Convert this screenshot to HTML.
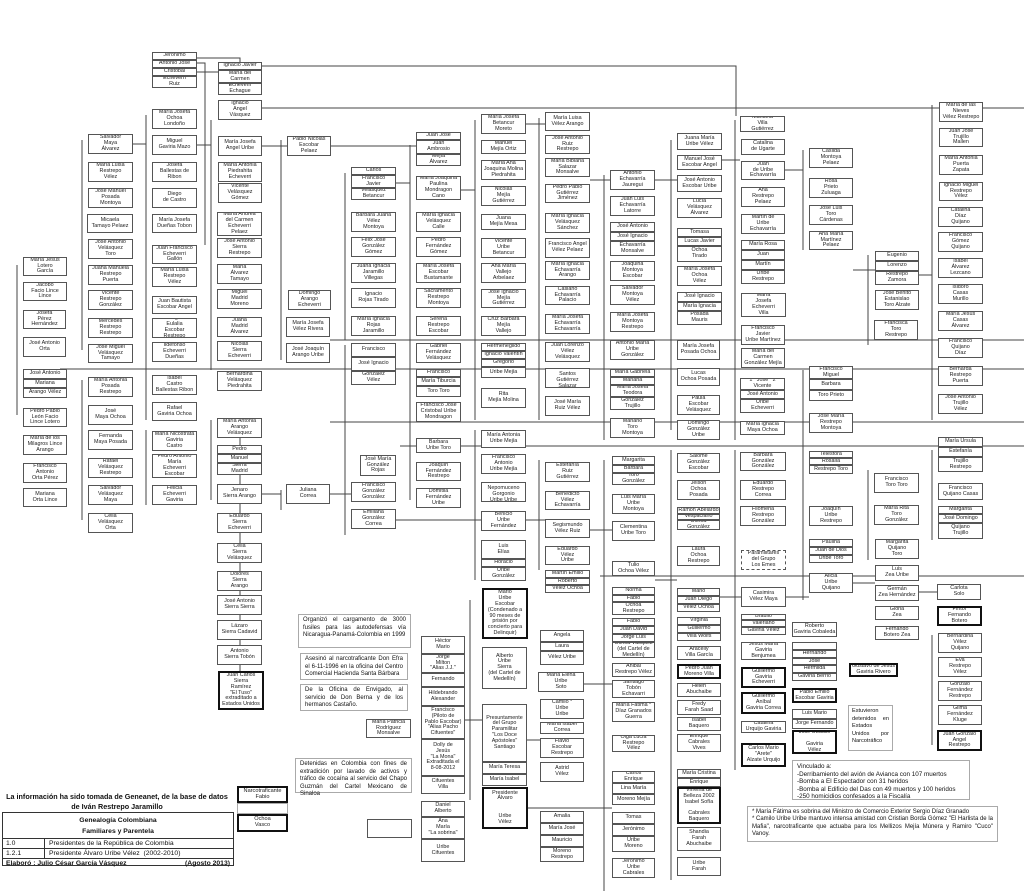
<!DOCTYPE html>
<html><head><meta charset="utf-8">
<style>
html,body{margin:0;padding:0;background:#fff}
#w{position:relative;width:1024px;height:891px;overflow:hidden;background:#fff}
.b{position:absolute;box-sizing:border-box;border:1px solid #555;background:#fff;font:5.4px/5.8px "Liberation Sans",sans-serif;text-align:center;display:flex;align-items:center;justify-content:center;overflow:hidden;color:#222}
.k{border:2px solid #111}
.d{border:1px dashed #555}
.n{position:absolute;box-sizing:border-box;border:1px solid #aaa;background:#fff;font:7px/9px "Liberation Sans",sans-serif;color:#111;padding:2px 4px;text-align:justify}
svg{position:absolute;left:0;top:0}
</style></head><body><div id="w">
<svg width="1024" height="891" stroke="#444" stroke-width="1" fill="none">
<path d="M262 66H736V116M262 108H1024M197 58H240V62M197 63H205V245M197 72H260"/>
<path d="M330 340H1024M60 369H1024M330 422H1024M400 446H1024M600 576H1024"/>
<path d="M17 265V415M82 140V350M82 380V520M146 115V420M146 430V505M211 120V370M211 420V500M281 140V360M281 490V510M345 173V340M345 345V535M410 145V500M475 120V420M475 430V580M539 118V420M539 460V570M604 175V440M604 460V900M671 140V430M671 450V880M735 120V440M735 450V770M803 150V250M803 370V600M868 255V345M868 470V560M932 105V420M932 450V540M932 635V745M240 420V710M470 600V800"/>
<path d="M133 144H146M197 145H211M262 146H287M331 146H420M396 183H410M461 190H475M526 124H545M590 180H610M655 180H677M722 160H740M785 170H803M853 270H875M919 275H932M262 494H281M330 494H351M396 520H481M526 520H545M590 530H612M655 580H677M720 597H741M786 597H809M853 583H875M919 592H937M527 808H612M527 740H540M465 720H482M584 684H612"/>
</svg>
<!-- col1 -->
<div class="b" style="left:23px;top:257px;width:44px;height:19px">María Jesús<br>Lotero<br>García</div>
<div class="b" style="left:23px;top:282px;width:44px;height:19px">Jacobo<br>Facio Lince<br>Lince</div>
<div class="b" style="left:23px;top:310px;width:43px;height:19px">Josefa<br>Pérez<br>Hernández</div>
<div class="b" style="left:23px;top:337px;width:43px;height:20px">José Antonio<br>Orta</div>
<div class="b" style="left:23px;top:369px;width:44px;height:10px">José Antonio</div>
<div class="b" style="left:23px;top:379px;width:44px;height:9px">Mariana</div>
<div class="b" style="left:23px;top:388px;width:44px;height:10px">Arango Vélez</div>
<div class="b" style="left:23px;top:408px;width:44px;height:19px">Pedro Pablo<br>León Facio<br>Lince Lotero</div>
<div class="b" style="left:23px;top:435px;width:44px;height:20px">María de los<br>Milagros Lince<br>Arango</div>
<div class="b" style="left:23px;top:463px;width:44px;height:20px">Francisco<br>Antonio<br>Orta Pérez</div>
<div class="b" style="left:23px;top:488px;width:44px;height:19px">Mariana<br>Orta Lince</div>
<!-- col2 -->
<div class="b" style="left:88px;top:134px;width:45px;height:20px">Salvador<br>Maya<br>Álvarez</div>
<div class="b" style="left:88px;top:162px;width:45px;height:20px">María Luisa<br>Restrepo<br>Vélez</div>
<div class="b" style="left:88px;top:188px;width:45px;height:20px">José Manuel<br>Posada<br>Montoya</div>
<div class="b" style="left:87px;top:214px;width:46px;height:19px">Micaela<br>Tamayo Pelaez</div>
<div class="b" style="left:88px;top:239px;width:45px;height:20px">José Antonio<br>Velásquez<br>Toro</div>
<div class="b" style="left:88px;top:265px;width:45px;height:20px">Juana Manuela<br>Restrepo<br>Puerta</div>
<div class="b" style="left:88px;top:290px;width:45px;height:20px">Vicente<br>Restrepo<br>González</div>
<div class="b" style="left:88px;top:318px;width:45px;height:20px">Mercedes<br>Restrepo<br>Restrepo</div>
<div class="b" style="left:88px;top:344px;width:45px;height:19px">José Miguel<br>Velásquez<br>Tamayo</div>
<div class="b" style="left:88px;top:377px;width:45px;height:20px">María Antonia<br>Posada<br>Restrepo</div>
<div class="b" style="left:88px;top:405px;width:45px;height:20px">José<br>Maya Ochoa</div>
<div class="b" style="left:88px;top:430px;width:45px;height:20px">Fernanda<br>Maya Posada</div>
<div class="b" style="left:88px;top:458px;width:45px;height:20px">Rafael<br>Velásquez<br>Restrepo</div>
<div class="b" style="left:88px;top:485px;width:45px;height:20px">Salvador<br>Velásquez<br>Maya</div>
<div class="b" style="left:88px;top:513px;width:45px;height:20px">Celia<br>Velásquez<br>Orta</div>
<!-- col3 -->
<div class="b" style="left:152px;top:52px;width:45px;height:8px">Jerónimo</div>
<div class="b" style="left:152px;top:60px;width:45px;height:8px">Antonio José</div>
<div class="b" style="left:152px;top:68px;width:45px;height:8px">Cristobal</div>
<div class="b" style="left:152px;top:76px;width:45px;height:12px">Echeverri<br>Ruiz</div>
<div class="b" style="left:152px;top:109px;width:45px;height:20px">María Josefa<br>Ochoa<br>Londoño</div>
<div class="b" style="left:152px;top:135px;width:45px;height:20px">Miguel<br>Gaviria Mazo</div>
<div class="b" style="left:152px;top:162px;width:45px;height:20px">Josefa<br>Ballestas de<br>Ribon</div>
<div class="b" style="left:152px;top:188px;width:45px;height:20px">Diego<br>de Castro</div>
<div class="b" style="left:152px;top:214px;width:45px;height:19px">María Josefa<br>Dueñas Tobon</div>
<div class="b" style="left:152px;top:245px;width:45px;height:19px">Juan Francisco<br>Echeverri<br>Gallón</div>
<div class="b" style="left:152px;top:267px;width:45px;height:20px">María Luisa<br>Restrepo<br>Vélez</div>
<div class="b" style="left:152px;top:296px;width:45px;height:18px">Juan Bautista<br>Escobar Angel</div>
<div class="b" style="left:152px;top:318px;width:45px;height:20px">María Ignacia<br>Eulalia<br>Escobar<br>Restrepo</div>
<div class="b" style="left:152px;top:342px;width:45px;height:20px">Ildefonso<br>Echeverri<br>Dueñas</div>
<div class="b" style="left:152px;top:375px;width:45px;height:20px">Isabel<br>Castro<br>Ballestas Ribon</div>
<div class="b" style="left:152px;top:402px;width:45px;height:19px">Rafael<br>Gaviria Ochoa</div>
<div class="b" style="left:152px;top:431px;width:45px;height:20px">María Nicostrata<br>Gaviria<br>Castro</div>
<div class="b" style="left:152px;top:454px;width:45px;height:24px">Pedro Antonio<br>María<br>Echeverri<br>Escobar</div>
<div class="b" style="left:152px;top:485px;width:45px;height:20px">Felicia<br>Echeverri<br>Gaviria</div>
<!-- col4 -->
<div class="b" style="left:218px;top:62px;width:44px;height:8px">Ignacio Javier</div>
<div class="b" style="left:218px;top:70px;width:44px;height:13px">María del<br>Carmen</div>
<div class="b" style="left:218px;top:83px;width:44px;height:12px">Echeverri<br>Echague</div>
<div class="b" style="left:218px;top:100px;width:44px;height:20px">Ignacio<br>Angel<br>Vásquez</div>
<div class="b" style="left:218px;top:136px;width:44px;height:20px">María Josefa<br>Angel Uribe</div>
<div class="b" style="left:218px;top:162px;width:44px;height:20px">María Antonia<br>Piedrahita<br>Echeverri</div>
<div class="b" style="left:218px;top:183px;width:44px;height:20px">Vicente<br>Velásquez<br>Gómez</div>
<div class="b" style="left:217px;top:212px;width:45px;height:24px">María Andrea<br>del Carmen<br>Echeverri<br>Pelaez</div>
<div class="b" style="left:217px;top:238px;width:45px;height:20px">José Antonio<br>Sierra<br>Restrepo</div>
<div class="b" style="left:217px;top:264px;width:45px;height:20px">María<br>Álvarez<br>Tamayo</div>
<div class="b" style="left:217px;top:289px;width:45px;height:20px">Miguel<br>Madrid<br>Moreno</div>
<div class="b" style="left:217px;top:317px;width:45px;height:20px">Juana<br>Madrid<br>Álvarez</div>
<div class="b" style="left:217px;top:341px;width:45px;height:20px">Nicolás<br>Sierra<br>Echeverri</div>
<div class="b" style="left:217px;top:371px;width:45px;height:20px">Bernardina<br>Velásquez<br>Piedrahita</div>
<div class="b" style="left:217px;top:418px;width:45px;height:20px">María Antonia<br>Arango<br>Velásquez</div>
<div class="b" style="left:217px;top:445px;width:45px;height:9px">Pedro</div>
<div class="b" style="left:217px;top:454px;width:45px;height:9px">Manuel</div>
<div class="b" style="left:217px;top:463px;width:45px;height:12px">Sierra<br>Madrid</div>
<div class="b" style="left:217px;top:484px;width:45px;height:20px">Jenaro<br>Sierra Arango</div>
<div class="b" style="left:217px;top:513px;width:45px;height:20px">Eduardo<br>Sierra<br>Echeverri</div>
<div class="b" style="left:217px;top:543px;width:45px;height:20px">Celia<br>Sierra<br>Velásquez</div>
<div class="b" style="left:217px;top:571px;width:45px;height:20px">Dolores<br>Sierra<br>Arango</div>
<div class="b" style="left:217px;top:595px;width:45px;height:20px">José Antonio<br>Sierra Sierra</div>
<div class="b" style="left:217px;top:620px;width:45px;height:20px">Lázaro<br>Sierra Cadavid</div>
<div class="b" style="left:217px;top:645px;width:45px;height:20px">Antonio<br>Sierra Tobón</div>
<div class="b k" style="left:218px;top:671px;width:46px;height:39px">Juan Carlos<br>Sierra<br>Ramírez<br>"El Tuso"<br>extraditado a<br>Estados Unidos</div>
<!-- col5 -->
<div class="b" style="left:287px;top:136px;width:44px;height:20px">Pablo Nicolás<br>Escobar<br>Pelaez</div>
<div class="b" style="left:288px;top:290px;width:43px;height:20px">Domingo<br>Arango<br>Echeverri</div>
<div class="b" style="left:286px;top:317px;width:44px;height:20px">María Josefa<br>Vélez Rivera</div>
<div class="b" style="left:286px;top:343px;width:44px;height:20px">José Joaquín<br>Arango Uribe</div>
<div class="b" style="left:286px;top:484px;width:44px;height:20px">Juliana<br>Correa</div>
<!-- col6 -->
<div class="b" style="left:351px;top:167px;width:45px;height:8px">Carlos</div>
<div class="b" style="left:351px;top:175px;width:45px;height:13px">Francisco<br>Javier</div>
<div class="b" style="left:351px;top:188px;width:45px;height:12px">Velásquez<br>Betancur</div>
<div class="b" style="left:351px;top:212px;width:45px;height:20px">Barbara Juana<br>Vélez<br>Montoya</div>
<div class="b" style="left:351px;top:237px;width:45px;height:20px">Felix José<br>González<br>Gómez</div>
<div class="b" style="left:351px;top:263px;width:45px;height:20px">Juana Ignacia<br>Jaramillo<br>Villegas</div>
<div class="b" style="left:351px;top:288px;width:45px;height:20px">Ignacio<br>Rojas Tirado</div>
<div class="b" style="left:351px;top:316px;width:45px;height:20px">María Ignacia<br>Rojas<br>Jaramillo</div>
<div class="b" style="left:351px;top:343px;width:45px;height:14px">Francisco</div>
<div class="b" style="left:351px;top:357px;width:45px;height:14px">José Ignacio</div>
<div class="b" style="left:351px;top:371px;width:45px;height:14px">González<br>Vélez</div>
<div class="b" style="left:360px;top:455px;width:36px;height:21px">José María<br>González<br>Rojas</div>
<div class="b" style="left:351px;top:482px;width:45px;height:20px">Francisco<br>González<br>González</div>
<div class="b" style="left:351px;top:509px;width:45px;height:20px">Emiliana<br>González<br>Correa</div>
<!-- col7 -->
<div class="b" style="left:416px;top:132px;width:45px;height:8px">Juan José</div>
<div class="b" style="left:416px;top:140px;width:45px;height:14px">Juan<br>Ambrosio</div>
<div class="b" style="left:416px;top:154px;width:45px;height:12px">Mejía<br>Álvarez</div>
<div class="b" style="left:416px;top:176px;width:45px;height:24px">María Joaquina<br>Paulina<br>Mondragon<br>Cano</div>
<div class="b" style="left:416px;top:212px;width:45px;height:20px">María Ignacia<br>Velásquez<br>Calle</div>
<div class="b" style="left:416px;top:237px;width:45px;height:20px">Pedro<br>Fernández<br>Gómez</div>
<div class="b" style="left:416px;top:263px;width:45px;height:20px">María Josefa<br>Escobar<br>Bustamante</div>
<div class="b" style="left:416px;top:288px;width:45px;height:20px">Sacramento<br>Restrepo<br>Montoya</div>
<div class="b" style="left:416px;top:316px;width:45px;height:20px">Serena<br>Restrepo<br>Escobar</div>
<div class="b" style="left:416px;top:343px;width:45px;height:20px">Gabriel<br>Fernández<br>Velásquez</div>
<div class="b" style="left:416px;top:369px;width:45px;height:8px">Francisco</div>
<div class="b" style="left:416px;top:377px;width:45px;height:9px">María Tiburcia</div>
<div class="b" style="left:416px;top:386px;width:45px;height:11px">Toro Toro</div>
<div class="b" style="left:416px;top:402px;width:45px;height:20px">Francisco José<br>Cristobal Uribe<br>Mondragon</div>
<div class="b" style="left:416px;top:438px;width:45px;height:15px">Barbara<br>Uribe Toro</div>
<div class="b" style="left:416px;top:462px;width:45px;height:19px">Joaquín<br>Fernández<br>Restrepo</div>
<div class="b" style="left:416px;top:488px;width:45px;height:20px">Domitila<br>Fernández<br>Uribe</div>
<!-- col8 -->
<div class="b" style="left:481px;top:114px;width:45px;height:20px">María Josefa<br>Betancur<br>Moreto</div>
<div class="b" style="left:481px;top:140px;width:45px;height:14px">Manuel<br>Mejía Ortiz</div>
<div class="b" style="left:481px;top:160px;width:45px;height:20px">María Ana<br>Joaquina Molina<br>Piedrahita</div>
<div class="b" style="left:481px;top:186px;width:45px;height:20px">Nicolás<br>Mejía<br>Gutiérrez</div>
<div class="b" style="left:481px;top:214px;width:45px;height:16px">Juana<br>Mejía Mesa</div>
<div class="b" style="left:481px;top:238px;width:45px;height:20px">Vicente<br>Uribe<br>Betancur</div>
<div class="b" style="left:481px;top:263px;width:45px;height:20px">Ana María<br>Vallejo<br>Arbelaez</div>
<div class="b" style="left:481px;top:289px;width:45px;height:19px">José Ignacio<br>Mejía<br>Gutiérrez</div>
<div class="b" style="left:481px;top:316px;width:45px;height:20px">Cruz Barbara<br>Mejía<br>Vallejo</div>
<div class="b" style="left:481px;top:343px;width:45px;height:8px">Hermenegildo</div>
<div class="b" style="left:481px;top:351px;width:45px;height:8px">Ignacio Valentín</div>
<div class="b" style="left:481px;top:359px;width:45px;height:8px">Gregorio</div>
<div class="b" style="left:481px;top:367px;width:45px;height:11px">Uribe Mejía</div>
<div class="b" style="left:481px;top:388px;width:45px;height:20px">Rita<br>Mejía Molina</div>
<div class="b" style="left:481px;top:430px;width:45px;height:18px">María Antonia<br>Uribe Mejía</div>
<div class="b" style="left:481px;top:454px;width:45px;height:20px">Francisco<br>Antonio<br>Uribe Mejía</div>
<div class="b" style="left:481px;top:482px;width:45px;height:20px">Juan Nepomuceno<br>Gorgonio<br>Uribe Uribe</div>
<div class="b" style="left:481px;top:511px;width:45px;height:20px">Benicio<br>Uribe<br>Fernández</div>
<div class="b" style="left:481px;top:540px;width:45px;height:19px">Luis<br>Elías</div>
<div class="b" style="left:481px;top:559px;width:45px;height:8px">Horacio</div>
<div class="b" style="left:481px;top:567px;width:45px;height:14px">Uribe<br>González</div>
<div class="b k" style="left:482px;top:588px;width:46px;height:51px">Mario<br>Uribe<br>Escobar<br>(Condenado a<br>90 meses de<br>prisión por<br>concierto para<br>Delinquir)</div>
<div class="b" style="left:482px;top:647px;width:45px;height:42px">Alberto<br>Uribe<br>Sierra<br>(del Cartel de<br>Medellín)</div>
<div class="b" style="left:482px;top:704px;width:45px;height:58px">Presuntamente<br>del Grupo<br>Paramilitar<br>"Los Doce<br>Apóstoles"<br>Santiago</div>
<div class="b" style="left:482px;top:762px;width:45px;height:12px">María Teresa</div>
<div class="b" style="left:482px;top:774px;width:45px;height:12px">María Isabel</div>
<div class="b" style="left:482px;top:786px;width:45px;height:0px"></div>
<div class="b" style="left:482px;top:764px;width:45px;height:0px;border:0"></div>
<div class="b" style="left:482px;top:786px;width:45px;height:1px;border:0"></div>
<div class="b" style="left:482px;top:764px;width:0;height:0;border:0"></div>
<div class="b" style="left:482px;top:786px;width:45px;height:1px;border:0"></div>
<div class="b k" style="left:482px;top:787px;width:46px;height:42px">Presidente<br>Álvaro<br><br><br>Uribe<br>Vélez</div>
<div class="b" style="left:482px;top:763px;width:45px;height:24px;display:none"></div>
<!-- col9 -->
<div class="b" style="left:545px;top:112px;width:45px;height:19px">María Luisa<br>Vélez Arango</div>
<div class="b" style="left:545px;top:135px;width:45px;height:19px">José Antonio<br>Ruiz<br>Restrepo</div>
<div class="b" style="left:545px;top:158px;width:45px;height:19px">María Bibiana<br>Salazar<br>Monsalve</div>
<div class="b" style="left:545px;top:184px;width:45px;height:19px">Pedro Pablo<br>Gutiérrez<br>Jiménez</div>
<div class="b" style="left:545px;top:213px;width:45px;height:20px">María Ignacia<br>Velásquez<br>Sánchez</div>
<div class="b" style="left:545px;top:238px;width:45px;height:20px">Francisco Angel<br>Vélez Pelaez</div>
<div class="b" style="left:545px;top:261px;width:45px;height:19px">María Ignacia<br>Echavarría<br>Arango</div>
<div class="b" style="left:545px;top:286px;width:45px;height:19px">Casiano<br>Echavarría<br>Palacio</div>
<div class="b" style="left:545px;top:314px;width:45px;height:20px">María Josefa<br>Echavarría<br>Echavarría</div>
<div class="b" style="left:545px;top:342px;width:45px;height:20px">Juan Lorenzo<br>Vélez<br>Velásquez</div>
<div class="b" style="left:545px;top:368px;width:45px;height:20px">María de los<br>Santos<br>Gutiérrez<br>Salazar</div>
<div class="b" style="left:545px;top:396px;width:45px;height:20px">José María<br>Ruiz Vélez</div>
<div class="b" style="left:545px;top:462px;width:45px;height:20px">Estefanía<br>Ruiz<br>Gutiérrez</div>
<div class="b" style="left:545px;top:491px;width:45px;height:19px">Benedicto<br>Vélez<br>Echavarría</div>
<div class="b" style="left:545px;top:519px;width:45px;height:19px">Segismundo<br>Vélez Ruiz</div>
<div class="b" style="left:545px;top:546px;width:45px;height:19px">Eduardo<br>Vélez<br>Uribe</div>
<div class="b" style="left:545px;top:570px;width:45px;height:8px">Martín Emilio</div>
<div class="b" style="left:545px;top:578px;width:45px;height:7px">Roberto</div>
<div class="b" style="left:545px;top:585px;width:45px;height:8px">Vélez Ochoa</div>
<div class="b" style="left:540px;top:630px;width:44px;height:12px">Angela</div>
<div class="b" style="left:540px;top:642px;width:44px;height:9px">Laura</div>
<div class="b" style="left:540px;top:651px;width:44px;height:14px">Vélez Uribe</div>
<div class="b" style="left:538px;top:672px;width:46px;height:20px">María Elena<br>Uribe<br>Soto</div>
<div class="b" style="left:540px;top:699px;width:44px;height:20px">Camilo *<br>Uribe<br>Uribe</div>
<div class="b" style="left:540px;top:722px;width:44px;height:12px">María Isabel<br>Correa</div>
<div class="b" style="left:540px;top:738px;width:44px;height:20px">Flavio<br>Escobar<br>Restrepo</div>
<div class="b" style="left:540px;top:762px;width:44px;height:20px">Astrid<br>Vélez</div>
<div class="b" style="left:540px;top:811px;width:44px;height:12px">Amalia</div>
<div class="b" style="left:540px;top:823px;width:44px;height:12px">María José</div>
<div class="b" style="left:540px;top:835px;width:44px;height:12px">Mauricio</div>
<div class="b" style="left:540px;top:847px;width:44px;height:15px">Moreno<br>Restrepo</div>
<!-- col10 -->
<div class="b" style="left:610px;top:170px;width:45px;height:20px">Antonio<br>Echavarría<br>Jauregui</div>
<div class="b" style="left:610px;top:196px;width:45px;height:20px">Juan Luis<br>Echavarría<br>Latorre</div>
<div class="b" style="left:610px;top:222px;width:45px;height:10px">José Antonio</div>
<div class="b" style="left:610px;top:232px;width:45px;height:9px">José Ignacio</div>
<div class="b" style="left:610px;top:241px;width:45px;height:15px">Echavarría<br>Monsalve</div>
<div class="b" style="left:610px;top:261px;width:45px;height:20px">Joaquina<br>Montoya<br>Escobar</div>
<div class="b" style="left:610px;top:285px;width:45px;height:20px">Salvador<br>Montoya<br>Vélez</div>
<div class="b" style="left:610px;top:312px;width:45px;height:20px">María Josefa<br>Montoya<br>Restrepo</div>
<div class="b" style="left:610px;top:340px;width:45px;height:20px">Antonio María<br>Uribe<br>González</div>
<div class="b" style="left:610px;top:369px;width:45px;height:8px">María Gabriela</div>
<div class="b" style="left:610px;top:377px;width:45px;height:8px">Mariana</div>
<div class="b" style="left:610px;top:385px;width:45px;height:12px">María Josefa<br>Teodora</div>
<div class="b" style="left:610px;top:397px;width:45px;height:13px">González<br>Trujillo</div>
<div class="b" style="left:610px;top:418px;width:45px;height:20px">Mariano<br>Toro<br>Montoya</div>
<div class="b" style="left:612px;top:456px;width:43px;height:9px">Margarita</div>
<div class="b" style="left:612px;top:465px;width:43px;height:8px">Barbara</div>
<div class="b" style="left:612px;top:473px;width:43px;height:12px">Toro<br>González</div>
<div class="b" style="left:612px;top:494px;width:43px;height:20px">Luis María<br>Uribe<br>Montoya</div>
<div class="b" style="left:612px;top:521px;width:43px;height:20px">Clementina<br>Uribe Toro</div>
<div class="b" style="left:612px;top:561px;width:43px;height:15px">Tulio<br>Ochoa Vélez</div>
<div class="b" style="left:612px;top:587px;width:43px;height:8px">Norma</div>
<div class="b" style="left:612px;top:595px;width:43px;height:7px">Fabio</div>
<div class="b" style="left:612px;top:602px;width:43px;height:13px">Ochoa<br>Restrepo</div>
<div class="b" style="left:612px;top:618px;width:43px;height:8px">Fabio</div>
<div class="b" style="left:612px;top:626px;width:43px;height:8px">Juan David</div>
<div class="b" style="left:612px;top:634px;width:43px;height:8px">Jorge Luis</div>
<div class="b" style="left:612px;top:642px;width:43px;height:16px">Ochoa Vásquez<br>(del Cartel de<br>Medellín)</div>
<div class="b" style="left:612px;top:663px;width:43px;height:14px">Anibal<br>Restrepo Vélez</div>
<div class="b" style="left:612px;top:680px;width:43px;height:18px">Santiago<br>Tobón<br>Echavarri</div>
<div class="b" style="left:612px;top:702px;width:43px;height:20px">María Fátima *<br>Díaz Granados<br>Guerra</div>
<div class="b" style="left:612px;top:735px;width:43px;height:17px">Olga Lucía<br>Restrepo<br>Vélez</div>
<div class="b" style="left:612px;top:771px;width:43px;height:12px">Carlos<br>Enrique</div>
<div class="b" style="left:612px;top:783px;width:43px;height:11px">Lina María</div>
<div class="b" style="left:612px;top:794px;width:43px;height:11px">Moreno Mejía</div>
<div class="b" style="left:612px;top:812px;width:43px;height:12px">Tomas</div>
<div class="b" style="left:612px;top:824px;width:43px;height:12px">Jerónimo</div>
<div class="b" style="left:612px;top:836px;width:43px;height:16px">Uribe<br>Moreno</div>
<div class="b" style="left:612px;top:858px;width:43px;height:20px">Jerónimo<br>Uribe<br>Cabrales</div>
<!-- col11 -->
<div class="b" style="left:677px;top:133px;width:45px;height:17px">Juana María<br>Uribe Vélez</div>
<div class="b" style="left:677px;top:155px;width:45px;height:15px">Manuel José<br>Escobar Angel</div>
<div class="b" style="left:677px;top:175px;width:45px;height:17px">José Antonio<br>Escobar Uribe</div>
<div class="b" style="left:677px;top:198px;width:45px;height:20px">Lucía<br>Velásquez<br>Álvarez</div>
<div class="b" style="left:677px;top:228px;width:45px;height:9px">Tomasa</div>
<div class="b" style="left:677px;top:237px;width:45px;height:9px">Lucas Javier</div>
<div class="b" style="left:677px;top:246px;width:45px;height:16px">Ochoa<br>Tirado</div>
<div class="b" style="left:677px;top:266px;width:45px;height:20px">María Josefa<br>Ochoa<br>Vélez</div>
<div class="b" style="left:677px;top:292px;width:45px;height:10px">José Ignacio</div>
<div class="b" style="left:677px;top:302px;width:45px;height:9px">María Ignacia</div>
<div class="b" style="left:677px;top:311px;width:45px;height:14px">Posada<br>Mauris</div>
<div class="b" style="left:677px;top:340px;width:43px;height:20px">María Josefa<br>Posada Ochoa</div>
<div class="b" style="left:677px;top:368px;width:43px;height:18px">Lucas<br>Ochoa Posada</div>
<div class="b" style="left:677px;top:395px;width:43px;height:20px">Paula<br>Escobar<br>Velásquez</div>
<div class="b" style="left:677px;top:420px;width:43px;height:20px">Domingo<br>González<br>Uribe</div>
<div class="b" style="left:677px;top:453px;width:43px;height:20px">Salomé<br>González<br>Escobar</div>
<div class="b" style="left:677px;top:480px;width:43px;height:20px">Jeison<br>Ochoa<br>Posada</div>
<div class="b" style="left:677px;top:507px;width:43px;height:7px">Ramón Abelardo</div>
<div class="b" style="left:677px;top:514px;width:43px;height:6px">Vespaciano</div>
<div class="b" style="left:677px;top:520px;width:43px;height:10px">Ochoa<br>González</div>
<div class="b" style="left:677px;top:546px;width:43px;height:20px">Laura<br>Ochoa<br>Restrepo</div>
<div class="b" style="left:677px;top:588px;width:43px;height:8px">Mario</div>
<div class="b" style="left:677px;top:596px;width:43px;height:8px">Juan Diego</div>
<div class="b" style="left:677px;top:604px;width:43px;height:8px">Vélez Ochoa</div>
<div class="b" style="left:677px;top:617px;width:44px;height:8px">Virginia</div>
<div class="b" style="left:677px;top:625px;width:44px;height:8px">Guillermo</div>
<div class="b" style="left:677px;top:633px;width:44px;height:8px">Villa Wolfs</div>
<div class="b" style="left:677px;top:646px;width:44px;height:14px">Aracelly<br>Villa García</div>
<div class="b k" style="left:677px;top:664px;width:44px;height:15px">Pedro Juan<br>Moreno Villa</div>
<div class="b" style="left:677px;top:683px;width:44px;height:14px">Helen<br>Abuchaibe</div>
<div class="b" style="left:677px;top:700px;width:44px;height:15px">Fredy<br>Farah Saad</div>
<div class="b" style="left:677px;top:717px;width:44px;height:14px">Isabel<br>Baquero</div>
<div class="b" style="left:677px;top:734px;width:44px;height:18px">Enrique<br>Cabrales<br>Vives</div>
<div class="b" style="left:677px;top:769px;width:44px;height:9px">María Cristina</div>
<div class="b" style="left:677px;top:778px;width:44px;height:9px">Enrique</div>
<div class="b k" style="left:677px;top:787px;width:44px;height:37px">Virreina de<br>Belleza 2002<br>Isabel Sofía<br><br>Cabrales<br>Baquero</div>
<div class="b" style="left:677px;top:827px;width:44px;height:24px">Shandia<br>Farah<br>Abuchaibe</div>
<div class="b" style="left:677px;top:857px;width:44px;height:19px">Uribe<br>Farah</div>
<!-- col12 -->
<div class="b" style="left:740px;top:116px;width:45px;height:16px">Manuela<br>Villa<br>Gutiérrez</div>
<div class="b" style="left:741px;top:139px;width:44px;height:16px">Catalina<br>de Ugarte</div>
<div class="b" style="left:741px;top:161px;width:44px;height:19px">Juan<br>de Uribe<br>Echavarría</div>
<div class="b" style="left:741px;top:187px;width:44px;height:20px">Ana<br>Restrepo<br>Pelaez</div>
<div class="b" style="left:741px;top:214px;width:44px;height:20px">Martín de<br>Uribe<br>Echavarría</div>
<div class="b" style="left:741px;top:240px;width:44px;height:10px">María Rosa</div>
<div class="b" style="left:741px;top:250px;width:44px;height:10px">Juan</div>
<div class="b" style="left:741px;top:260px;width:44px;height:10px">Martín</div>
<div class="b" style="left:741px;top:270px;width:44px;height:14px">Uribe<br>Restrepo</div>
<div class="b" style="left:741px;top:293px;width:45px;height:24px">María<br>Josefa<br>Echeverri<br>Villa</div>
<div class="b" style="left:741px;top:325px;width:44px;height:20px">Francisco<br>Javier<br>Uribe Martínez</div>
<div class="b" style="left:741px;top:348px;width:44px;height:20px">María del<br>Carmen<br>González Mejía</div>
<div class="b" style="left:740px;top:378px;width:45px;height:12px">1 &nbsp; José &nbsp; 2<br>Vicente</div>
<div class="b" style="left:740px;top:390px;width:45px;height:9px">José Antonio</div>
<div class="b" style="left:740px;top:399px;width:45px;height:14px">Uribe<br>Echeverri</div>
<div class="b" style="left:740px;top:421px;width:45px;height:14px">María Ignacia<br>Maya Ochoa</div>
<div class="b" style="left:740px;top:452px;width:46px;height:19px">Barbara<br>González<br>González</div>
<div class="b" style="left:740px;top:480px;width:46px;height:20px">Eduardo<br>Restrepo<br>Correa</div>
<div class="b" style="left:740px;top:506px;width:46px;height:20px">Filomena<br>Restrepo<br>González</div>
<div class="b d" style="left:741px;top:550px;width:45px;height:20px">Paramilitares<br>del Grupo<br>Los Emes</div>
<div class="b" style="left:741px;top:587px;width:45px;height:20px">Casimira<br>Vélez Maya</div>
<div class="b" style="left:741px;top:614px;width:45px;height:6px">Braulio</div>
<div class="b" style="left:741px;top:620px;width:45px;height:7px">Valeriano</div>
<div class="b" style="left:741px;top:627px;width:45px;height:8px">Gaviria Vélez</div>
<div class="b" style="left:741px;top:642px;width:45px;height:18px">Jesús María<br>Gaviria<br>Benjumea</div>
<div class="b k" style="left:741px;top:667px;width:45px;height:21px">Guillermo<br>Gaviria<br>Echeverri</div>
<div class="b k" style="left:741px;top:692px;width:45px;height:22px">Guillermo<br>Aníbal<br>Gaviria Correa</div>
<div class="b" style="left:741px;top:721px;width:45px;height:12px">Catalina<br>Urquijo Gaviria</div>
<div class="b k" style="left:741px;top:743px;width:45px;height:24px">Carlos Mario<br>"Arete"<br>Alzate Urquijo</div>
<!-- col13 -->
<div class="b" style="left:809px;top:148px;width:44px;height:20px">Casilda<br>Montoya<br>Pelaez</div>
<div class="b" style="left:809px;top:178px;width:44px;height:20px">Rosa<br>Prieto<br>Zuluaga</div>
<div class="b" style="left:809px;top:205px;width:44px;height:20px">José Luis<br>Toro<br>Cárdenas</div>
<div class="b" style="left:809px;top:231px;width:44px;height:19px">Ana María<br>Martínez<br>Pelaez</div>
<div class="b" style="left:809px;top:366px;width:44px;height:13px">Francisco<br>Miguel</div>
<div class="b" style="left:809px;top:379px;width:44px;height:11px">Barbara</div>
<div class="b" style="left:809px;top:390px;width:44px;height:11px">Toro Prieto</div>
<div class="b" style="left:809px;top:413px;width:44px;height:20px">José María<br>Restrepo<br>Montoya</div>
<div class="b" style="left:809px;top:451px;width:44px;height:7px">Telesfora</div>
<div class="b" style="left:809px;top:458px;width:44px;height:7px">Rosalía</div>
<div class="b" style="left:809px;top:465px;width:44px;height:9px">Restrepo Toro</div>
<div class="b" style="left:809px;top:506px;width:44px;height:20px">Joaquín<br>Uribe<br>Restrepo</div>
<div class="b" style="left:809px;top:539px;width:44px;height:8px">Paulina</div>
<div class="b" style="left:809px;top:547px;width:44px;height:8px">Juan de Dios</div>
<div class="b" style="left:809px;top:555px;width:44px;height:8px">Uribe Toro</div>
<div class="b" style="left:809px;top:573px;width:44px;height:20px">Alicia<br>Uribe<br>Quijano</div>
<div class="b" style="left:792px;top:622px;width:45px;height:15px">Roberto<br>Gaviria Cobaleda</div>
<div class="b" style="left:792px;top:642px;width:45px;height:8px"></div>
<div class="b" style="left:792px;top:650px;width:45px;height:8px">Hernando</div>
<div class="b" style="left:792px;top:658px;width:45px;height:7px">José</div>
<div class="b" style="left:792px;top:665px;width:45px;height:8px">Hermilda</div>
<div class="b" style="left:792px;top:673px;width:45px;height:8px">Gaviria Berrio</div>
<div class="b k" style="left:792px;top:688px;width:45px;height:15px">Pablo Emilio<br>Escobar Gaviria</div>
<div class="b" style="left:792px;top:709px;width:45px;height:10px">Luis Mario</div>
<div class="b" style="left:792px;top:719px;width:45px;height:10px">Jorge Fernando</div>
<div class="b k" style="left:792px;top:730px;width:45px;height:24px">José Obdulio<br><br>Gaviria<br>Vélez</div>
<div class="b k" style="left:849px;top:663px;width:49px;height:14px">Gustavo de Jesús<br>Gaviria Rivero</div>
<div class="n" style="left:848px;top:705px;width:45px;height:46px;font-size:5.6px;line-height:7.5px;padding:2px 3px">Estuvieron detenidos en Estados Unidos por Narcotráfico</div>
<!-- col14 -->
<div class="b" style="left:875px;top:251px;width:44px;height:10px">Eugenio</div>
<div class="b" style="left:875px;top:261px;width:44px;height:10px">Lorenzo</div>
<div class="b" style="left:875px;top:271px;width:44px;height:14px">Restrepo<br>Zamora</div>
<div class="b" style="left:875px;top:290px;width:44px;height:20px">José Benito<br>Estanislao<br>Toro Alzate</div>
<div class="b" style="left:874px;top:320px;width:44px;height:20px">Francisca<br>Toro<br>Restrepo</div>
<div class="b" style="left:874px;top:473px;width:45px;height:20px">Francisco<br>Toro Toro</div>
<div class="b" style="left:874px;top:505px;width:45px;height:20px">María Rita<br>Toro<br>González</div>
<div class="b" style="left:875px;top:539px;width:44px;height:20px">Margarita<br>Quijano<br>Toro</div>
<div class="b" style="left:875px;top:565px;width:44px;height:16px">Luis<br>Zea Uribe</div>
<div class="b" style="left:875px;top:585px;width:44px;height:16px">Germán<br>Zea Hernández</div>
<div class="b" style="left:875px;top:606px;width:44px;height:14px">Gloria<br>Zea</div>
<div class="b" style="left:875px;top:626px;width:44px;height:14px">Fernando<br>Botero Zea</div>
<div class="b" style="left:937px;top:584px;width:44px;height:16px">Carlota<br>Solo</div>
<div class="b k" style="left:937px;top:606px;width:45px;height:20px">Pintor<br>Fernando<br>Botero</div>
<!-- col15 -->
<div class="b" style="left:939px;top:102px;width:44px;height:20px">María de las<br>Nieves<br>Vélez Restrepo</div>
<div class="b" style="left:939px;top:128px;width:44px;height:19px">Juan José<br>Trujillo<br>Mallen</div>
<div class="b" style="left:939px;top:155px;width:44px;height:20px">María Antonia<br>Puerta<br>Zapata</div>
<div class="b" style="left:939px;top:182px;width:44px;height:19px">Ignacio Miguel<br>Restrepo<br>Vélez</div>
<div class="b" style="left:938px;top:207px;width:45px;height:20px">Catalina<br>Díaz<br>Quijano</div>
<div class="b" style="left:938px;top:232px;width:45px;height:20px">Francisco<br>Gómez<br>Quijano</div>
<div class="b" style="left:938px;top:258px;width:45px;height:20px">Isabel<br>Álvarez<br>Lezcano</div>
<div class="b" style="left:938px;top:284px;width:45px;height:20px">Isidoro<br>Casas<br>Murillo</div>
<div class="b" style="left:938px;top:311px;width:45px;height:20px">María Jesús<br>Casas<br>Álvarez</div>
<div class="b" style="left:938px;top:338px;width:45px;height:20px">Francisco<br>Quijano<br>Díaz</div>
<div class="b" style="left:938px;top:366px;width:45px;height:20px">Bernarda<br>Restrepo<br>Puerta</div>
<div class="b" style="left:938px;top:394px;width:45px;height:20px">José Antonio<br>Trujillo<br>Vélez</div>
<div class="b" style="left:938px;top:437px;width:45px;height:10px">María Ursula</div>
<div class="b" style="left:938px;top:447px;width:45px;height:10px">Estefanía</div>
<div class="b" style="left:938px;top:457px;width:45px;height:15px">Trujillo<br>Restrepo</div>
<div class="b" style="left:938px;top:483px;width:45px;height:17px">Francisco<br>Quijano Casas</div>
<div class="b" style="left:938px;top:506px;width:45px;height:8px">Margarita</div>
<div class="b" style="left:938px;top:514px;width:45px;height:9px">José Domingo</div>
<div class="b" style="left:938px;top:523px;width:45px;height:16px">Quijano<br>Trujillo</div>
<div class="b" style="left:938px;top:633px;width:44px;height:20px">Bernardina<br>Vélez<br>Quijano</div>
<div class="b" style="left:938px;top:657px;width:44px;height:20px">Eva<br>Restrepo<br>Vélez</div>
<div class="b" style="left:938px;top:681px;width:44px;height:20px">Gonzalo<br>Fernández<br>Restrepo</div>
<div class="b" style="left:938px;top:705px;width:44px;height:20px">Gilma<br>Fernández<br>Kluge</div>
<div class="b k" style="left:937px;top:730px;width:45px;height:21px">Juan Gonzalo<br>Angel<br>Restrepo</div>
<!-- middle left notes -->
<div class="n" style="left:298px;top:614px;width:113px;height:34px;font-size:6px;line-height:7.5px">Organizó el cargamento de 3000 fusiles para las autodefensas vía Nicaragua-Panamá-Colombia en 1999</div>
<div class="n" style="left:300px;top:653px;width:108px;height:27px;font-size:6px;line-height:7.5px">Asesinó al narcotraficante Don Efra el 6-11-1996 en la oficina del Centro Comercial Hacienda Santa Bárbara</div>
<div class="n" style="left:300px;top:684px;width:108px;height:27px;font-size:6px;line-height:7.5px">De la Oficina de Envigado, al servicio de Don Berna y de los hermanos Castaño.</div>
<div class="n" style="left:295px;top:758px;width:117px;height:35px;font-size:6px;line-height:7.5px">Detenidas en Colombia con fines de extradición por lavado de activos y tráfico de cocaína al servicio del Chapo Guzmán del Cartel Mexicano de Sinaloa</div>
<div class="b" style="left:421px;top:636px;width:44px;height:18px">Héctor<br>Mario</div>
<div class="b" style="left:421px;top:654px;width:44px;height:19px">Jorge<br>Milton<br>"Alias J.J."</div>
<div class="b" style="left:421px;top:673px;width:44px;height:14px">Fernando</div>
<div class="b" style="left:421px;top:687px;width:44px;height:19px">Hildebrando<br>Alexander</div>
<div class="b" style="left:421px;top:706px;width:44px;height:33px">Francisco<br>(Piloto de<br>Pablo Escobar)<br>"Alias Pacho<br>Cifuentes"</div>
<div class="b" style="left:421px;top:739px;width:44px;height:37px">Dolly de<br>Jesús<br>"La Mona"<br>Extraditada el<br>8-08-2012</div>
<div class="b" style="left:421px;top:776px;width:44px;height:18px">Cifuentes<br>Villa</div>
<div class="b" style="left:421px;top:801px;width:44px;height:16px">Daniel<br>Alberto</div>
<div class="b" style="left:421px;top:817px;width:44px;height:22px">Ana<br>María<br>"La sobrina"</div>
<div class="b" style="left:421px;top:839px;width:44px;height:23px">Uribe<br>Cifuentes</div>
<div class="b" style="left:366px;top:719px;width:45px;height:19px">María Patricia<br>Rodríguez<br>Monsalve</div>
<div class="b" style="left:367px;top:819px;width:45px;height:19px"></div>
<!-- bottom right notes -->
<div class="n" style="left:792px;top:760px;width:178px;height:40px;font-size:6.3px;line-height:7.5px;text-align:left">Vinculado a:<br>-Derribamiento del avión de Avianca con 107 muertos<br>-Bomba a El Espectador con 31 heridos<br>-Bomba al Edificio del Das con 49 muertos y 100 heridos<br>-250 homicidios confesados a la Fiscalía</div>
<div class="n" style="left:747px;top:806px;width:251px;height:36px;font-size:6px;line-height:7.4px">* María Fátima es sobrina del Ministro de Comercio Exterior Sergio Díaz Granado<br>* Camilo Uribe Uribe mantuvo intensa amistad con Cristian Borda Gómez "El Harlista de la Mafia", narcotraficante que actuaba para los Mellizos Mejía Múnera y Ramiro "Cuco" Vanoy.</div>
<!-- bottom left legend -->
<div style="position:absolute;left:6px;top:792px;width:222px;font:bold 7.2px/10px 'Liberation Sans',sans-serif;text-align:center;color:#111">La información ha sido tomada de Geneanet, de la base de datos de Iván Restrepo Jaramillo</div>
<div style="position:absolute;left:2px;top:812px;width:232px;height:54px;box-sizing:border-box;border:1px solid #333;font:6.8px 'Liberation Sans',sans-serif;color:#111">
<div style="height:26px;border-bottom:1px solid #333;text-align:center;font-weight:bold;line-height:11px;padding-top:2px;box-sizing:border-box">Genealogía Colombiana<br>Familiares y Parentela</div>
<div style="height:9px;border-bottom:1px solid #333;display:flex;line-height:9px"><span style="width:38px;border-right:1px solid #333;padding-left:3px">1.0</span><span style="padding-left:4px">Presidentes de la República de Colombia</span></div>
<div style="height:9px;border-bottom:1px solid #333;display:flex;line-height:9px"><span style="width:38px;border-right:1px solid #333;padding-left:3px">1.2.1</span><span style="padding-left:4px">Presidente Álvaro Uribe Vélez &nbsp;(2002-2010)</span></div>
<div style="font-weight:bold;line-height:9px;padding-left:3px">Elaboró : Julio César García Vásquez <span style="float:right;padding-right:3px">(Agosto 2013)</span></div>
</div>
<div class="b k" style="left:237px;top:786px;width:51px;height:17px;font-size:5.6px">Narcotraficante<br>Fabio</div>
<div class="b" style="left:237px;top:803px;width:51px;height:11px;border-color:#aaa"></div>
<div class="b k" style="left:237px;top:814px;width:51px;height:18px;font-size:5.6px">Ochoa<br>Vasco</div>
</div></body></html>
